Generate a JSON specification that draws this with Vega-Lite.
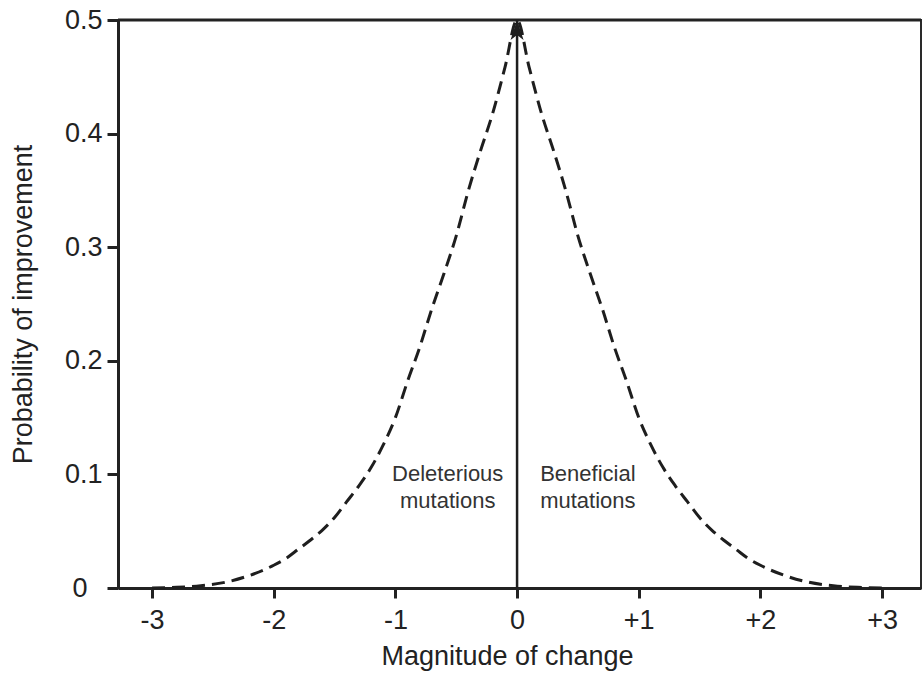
{
  "$schema": "https://vega.github.io/schema/vega-lite/v6.json",
  "width": 803,
  "height": 568,
  "autosize": "none",
  "padding": {"left": 118, "top": 20, "right": 1, "bottom": 94},
  "background": "white",
  "config": {
    "view": {"stroke": "#2a2a2a", "strokeWidth": 2},
    "font": "Liberation Sans",
    "axis": {"grid": false, "domainColor": "#222", "tickColor": "#222", "labelColor": "#222", "titleColor": "#222", "titleFontWeight": "normal"}
  },
  "layer": [
    {
      "data": {"values": [
        {"magnitude": -3.0, "probability": 0.0},
        {"magnitude": -2.8, "probability": 0.0006},
        {"magnitude": -2.6, "probability": 0.002},
        {"magnitude": -2.4, "probability": 0.005},
        {"magnitude": -2.2, "probability": 0.011},
        {"magnitude": -2.0, "probability": 0.02},
        {"magnitude": -1.9, "probability": 0.026},
        {"magnitude": -1.8, "probability": 0.034},
        {"magnitude": -1.7, "probability": 0.042},
        {"magnitude": -1.6, "probability": 0.051},
        {"magnitude": -1.5, "probability": 0.062},
        {"magnitude": -1.4, "probability": 0.076},
        {"magnitude": -1.3, "probability": 0.09},
        {"magnitude": -1.2, "probability": 0.106},
        {"magnitude": -1.1, "probability": 0.126},
        {"magnitude": -1.0, "probability": 0.15},
        {"magnitude": -0.9, "probability": 0.182},
        {"magnitude": -0.8, "probability": 0.212},
        {"magnitude": -0.7, "probability": 0.246},
        {"magnitude": -0.6, "probability": 0.277},
        {"magnitude": -0.5, "probability": 0.31},
        {"magnitude": -0.4, "probability": 0.35},
        {"magnitude": -0.3, "probability": 0.385},
        {"magnitude": -0.2, "probability": 0.418},
        {"magnitude": -0.1, "probability": 0.458},
        {"magnitude": 0.0, "probability": 0.5},
        {"magnitude": 0.1, "probability": 0.458},
        {"magnitude": 0.2, "probability": 0.418},
        {"magnitude": 0.3, "probability": 0.385},
        {"magnitude": 0.4, "probability": 0.35},
        {"magnitude": 0.5, "probability": 0.31},
        {"magnitude": 0.6, "probability": 0.277},
        {"magnitude": 0.7, "probability": 0.246},
        {"magnitude": 0.8, "probability": 0.212},
        {"magnitude": 0.9, "probability": 0.182},
        {"magnitude": 1.0, "probability": 0.15},
        {"magnitude": 1.1, "probability": 0.126},
        {"magnitude": 1.2, "probability": 0.106},
        {"magnitude": 1.3, "probability": 0.09},
        {"magnitude": 1.4, "probability": 0.076},
        {"magnitude": 1.5, "probability": 0.062},
        {"magnitude": 1.6, "probability": 0.051},
        {"magnitude": 1.7, "probability": 0.042},
        {"magnitude": 1.8, "probability": 0.034},
        {"magnitude": 1.9, "probability": 0.026},
        {"magnitude": 2.0, "probability": 0.02},
        {"magnitude": 2.2, "probability": 0.011},
        {"magnitude": 2.4, "probability": 0.005},
        {"magnitude": 2.6, "probability": 0.002},
        {"magnitude": 2.8, "probability": 0.0006},
        {"magnitude": 3.0, "probability": 0.0}
      ]},
      "mark": {"type": "line", "strokeDash": [13, 7], "strokeWidth": 3, "color": "#1e1e1e", "interpolate": "monotone"},
      "encoding": {
        "x": {
          "field": "magnitude", "type": "quantitative",
          "scale": {"domain": [-3.28, 3.32], "nice": false, "zero": false},
          "axis": {
            "title": "Magnitude of change",
            "values": [-3, -2, -1, 0, 1, 2, 3],
            "labelExpr": "datum.value > 0 ? '+' + datum.value : '' + datum.value",
            "tickSize": 10, "tickWidth": 3, "domainWidth": 3,
            "labelFontSize": 27, "labelPadding": 9, "labelFlush": false,
            "titleFontSize": 27, "titlePadding": 10, "titleX": 389
          }
        },
        "y": {
          "field": "probability", "type": "quantitative",
          "scale": {"domain": [0, 0.5], "nice": false},
          "axis": {
            "title": "Probability of improvement",
            "values": [0, 0.1, 0.2, 0.3, 0.4, 0.5],
            "labelExpr": "datum.value == 0 ? '0' : format(datum.value, '.1f')",
            "tickSize": 11, "tickWidth": 3, "domainWidth": 3,
            "labelFontSize": 27,
            "labelPadding": {"condition": {"test": "datum.value == 0", "value": 20}, "value": 5},
            "labelFlush": false,
            "titleFontSize": 27, "titlePadding": 27
          }
        }
      }
    },
    {
      "data": {"values": [{"magnitude": 0, "probability": 0, "peak": 0.5}]},
      "mark": {"type": "rule", "strokeWidth": 3, "color": "#222"},
      "encoding": {"y": {"field": "peak", "type": "quantitative"}}
    },
    {
      "data": {"values": [{"magnitude": 0, "probability": 0, "peak": 0.5}]},
      "mark": {"type": "rule", "strokeWidth": 2.5, "color": "#1e1e1e"},
      "encoding": {
        "x": {"field": "magnitude", "type": "quantitative"},
        "y": {"field": "probability", "type": "quantitative"},
        "y2": {"field": "peak"}
      }
    },
    {
      "data": {"values": [{"magnitude": 0, "probability": 0, "peak": 0.5}]},
      "mark": {"type": "point", "filled": true, "opacity": 1, "color": "#1e1e1e", "size": 400, "shape": "M0,0 L0.65,2 L0,1.5 L-0.65,2 Z"},
      "encoding": {
        "x": {"field": "magnitude", "type": "quantitative"},
        "y": {"field": "peak", "type": "quantitative"}
      }
    },
    {
      "data": {"values": [
        {"magnitude": -0.57, "probability": 0.1, "label": "Deleterious"},
        {"magnitude": -0.57, "probability": 0.077, "label": "mutations"}
      ]},
      "mark": {"type": "text", "align": "center", "baseline": "middle", "fontSize": 22, "color": "#333"},
      "encoding": {
        "x": {"field": "magnitude", "type": "quantitative"},
        "y": {"field": "probability", "type": "quantitative"},
        "text": {"field": "label"}
      }
    },
    {
      "data": {"values": [
        {"magnitude": 0.19, "probability": 0.1, "label": "Beneficial"},
        {"magnitude": 0.19, "probability": 0.077, "label": "mutations"}
      ]},
      "mark": {"type": "text", "align": "left", "baseline": "middle", "fontSize": 22, "color": "#333"},
      "encoding": {
        "x": {"field": "magnitude", "type": "quantitative"},
        "y": {"field": "probability", "type": "quantitative"},
        "text": {"field": "label"}
      }
    }
  ]
}
